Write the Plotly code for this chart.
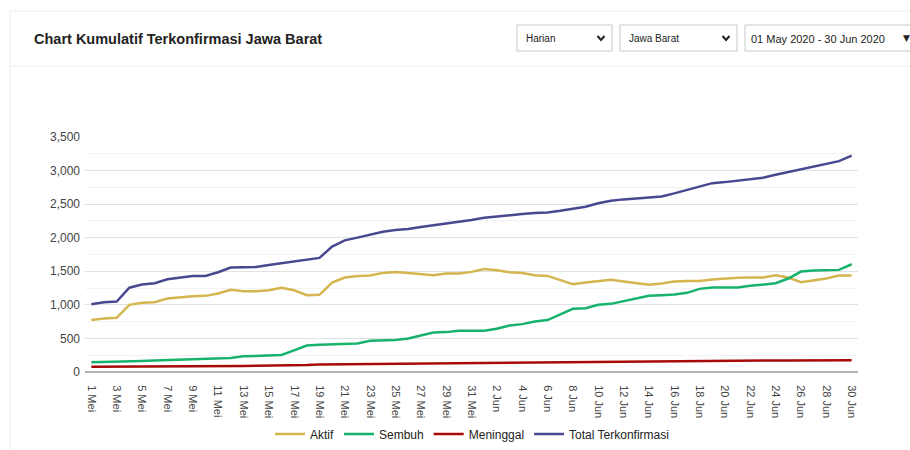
import plotly.graph_objects as go

# ---------------- data ----------------
dates = [f"{d} Mei" for d in range(1, 32)] + [f"{d} Jun" for d in range(1, 31)]

aktif = [773, 797, 807, 1000, 1030, 1040, 1095, 1114, 1129, 1134,
         1170, 1223, 1204, 1204, 1218, 1253, 1218, 1144, 1149, 1332,
         1407, 1431, 1436, 1476, 1491, 1476, 1456, 1441, 1466, 1466,
         1491, 1535, 1516, 1486, 1476, 1441, 1431, 1372, 1308, 1332,
         1350, 1372, 1347, 1317, 1298, 1317, 1347, 1357, 1357, 1377,
         1392, 1402, 1407, 1407, 1441, 1407, 1337, 1367, 1392, 1436,
         1436]

sembuh = [144, 146, 149, 155, 163, 170, 175, 180, 196, 198,
          203, 208, 233, 243, 248, 253, 322, 394, 406, 411,
          421, 426, 466, 475, 475, 500, 540, 589, 594, 614,
          616, 614, 644, 693, 713, 753, 773, 857, 941, 951,
          1000, 1015, 1055, 1095, 1134, 1144, 1154, 1179, 1238, 1258,
          1258, 1258, 1283, 1308, 1322, 1392, 1496, 1511, 1521, 1521,
          1605]

meninggal = [80, 80, 81, 82, 83, 84, 85, 86, 87, 88,
             89, 90, 91, 92, 93, 94, 95, 105, 113, 115,
             116, 117, 118, 118, 119, 119, 124, 128, 130, 131,
             132, 133, 138, 142, 144, 145, 146, 147, 148, 149,
             150, 151, 152, 153, 154, 155, 158, 162, 165, 167,
             168, 169, 170, 171, 172, 173, 174, 174, 175, 175,
             176]

total = [1010, 1040, 1050, 1255, 1303, 1322, 1382, 1407, 1431, 1431,
         1486, 1555, 1560, 1565, 1595, 1620, 1649, 1674, 1699, 1867,
         1961, 2001, 2041, 2090, 2115, 2130, 2159, 2184, 2214, 2239,
         2264, 2298, 2318, 2343, 2353, 2368, 2377, 2402, 2427, 2462,
         2513, 2551, 2571, 2585, 2600, 2615, 2660, 2709, 2764, 2813,
         2828, 2848, 2863, 2893, 2937, 2977, 3016, 3066, 3096, 3140,
         3224]

series_names = ["Aktif", "Sembuh", "Meninggal", "Total Terkonfirmasi"]
series_colors = ["#d5b54e", "#17b26c", "#a80a0a", "#484891"]
tick_labels = dates[::2]

title_text = "Chart Kumulatif Terkonfirmasi Jawa Barat"
dropdown_texts = ["Harian", "Jawa Barat", "01 May 2020 - 30 Jun 2020"]

# ---------------- layout geometry ----------------
FW, FH = 910, 450
L, R, T, B = 85, 52, 137, 78
W = FW - L - R
H = FH - T - B


def X(px):
    return (px - L) / W


def Y(py):
    return (FH - B - py) / H


FONT = "Liberation Sans, Arial, sans-serif"

fig = go.Figure()
for name, vals, col in zip(series_names, [aktif, sembuh, meninggal, total], series_colors):
    fig.add_trace(go.Scatter(x=dates, y=vals, name=name, mode="lines",
                             line=dict(color=col, width=2.5)))

shapes = []
annotations = []

# card outline and header separator
shapes.append(dict(type="rect", xref="paper", yref="paper",
                   x0=X(10), x1=X(915), y0=Y(455), y1=Y(11),
                   line=dict(color="#ececec", width=1), fillcolor="rgba(0,0,0,0)", layer="below"))
shapes.append(dict(type="line", xref="paper", yref="paper",
                   x0=X(10), x1=X(915), y0=Y(66), y1=Y(66),
                   line=dict(color="#ececec", width=1)))

# title
annotations.append(dict(text=f"<b>{title_text}</b>", xref="paper", yref="paper",
                        x=X(32), y=Y(39), xanchor="left", yanchor="middle", showarrow=False,
                        font=dict(family=FONT, size=14.5, color="#222222")))

# dropdown boxes
boxes = [(517, 612), (620, 737), (745, 930)]
for (bx0, bx1), txt in zip(boxes, dropdown_texts):
    shapes.append(dict(type="rect", xref="paper", yref="paper",
                       x0=X(bx0), x1=X(bx1), y0=Y(51), y1=Y(25),
                       line=dict(color="#c8c8c8", width=1), fillcolor="white"))
    annotations.append(dict(text=txt, xref="paper", yref="paper",
                            x=X(bx0 + 7 if bx1 < 900 else bx0 + 4), y=Y(38.5),
                            xanchor="left", yanchor="middle", showarrow=False,
                            font=dict(family=FONT, size=10 if bx1 < 900 else 11, color="#222222")))
# chevrons
for cx in (601, 726):
    shapes.append(dict(type="path", xref="paper", yref="paper",
                       path=f"M {X(cx-3.5)},{Y(36)} L {X(cx)},{Y(40)} L {X(cx+3.5)},{Y(36)}",
                       line=dict(color="#222222", width=2)))
annotations.append(dict(text="▼", xref="paper", yref="paper", x=X(906), y=Y(38),
                        xanchor="center", yanchor="middle", showarrow=False,
                        font=dict(family="DejaVu Sans", size=9, color="#222222")))

fig.update_layout(
    width=FW, height=FH,
    margin=dict(l=L, r=R, t=T, b=B, autoexpand=False),
    paper_bgcolor="white", plot_bgcolor="white",
    font=dict(family=FONT, size=12, color="#444444"),
    showlegend=True,
    legend=dict(orientation="h", x=X(472), y=Y(434), xanchor="center", yanchor="middle",
                font=dict(family=FONT, size=12, color="#222222"), traceorder="normal",
                itemwidth=30),
    shapes=shapes,
    annotations=annotations,
    xaxis=dict(type="category", range=[-0.5, len(dates) - 0.5], automargin=False,
               tickmode="array", tickvals=tick_labels, ticktext=tick_labels,
               tickangle=90, showgrid=False, showline=False, zeroline=False,
               ticks="outside", ticklen=10, tickcolor="rgba(0,0,0,0)",
               tickfont=dict(family=FONT, size=11, color="#444444")),
    yaxis=dict(range=[0, 3500], dtick=500, tickformat=",", automargin=False,
               showgrid=True, gridcolor="#e2e2e2", gridwidth=1,
               minor=dict(dtick=250, showgrid=True, gridcolor="#f3f3f3", gridwidth=1),
               zeroline=True, zerolinecolor="#b3b3b3", zerolinewidth=2,
               showline=False, ticks="", ticklabelstandoff=4,
               tickfont=dict(family=FONT, size=12, color="#444444")),
)

fig.write_html("out.html")
